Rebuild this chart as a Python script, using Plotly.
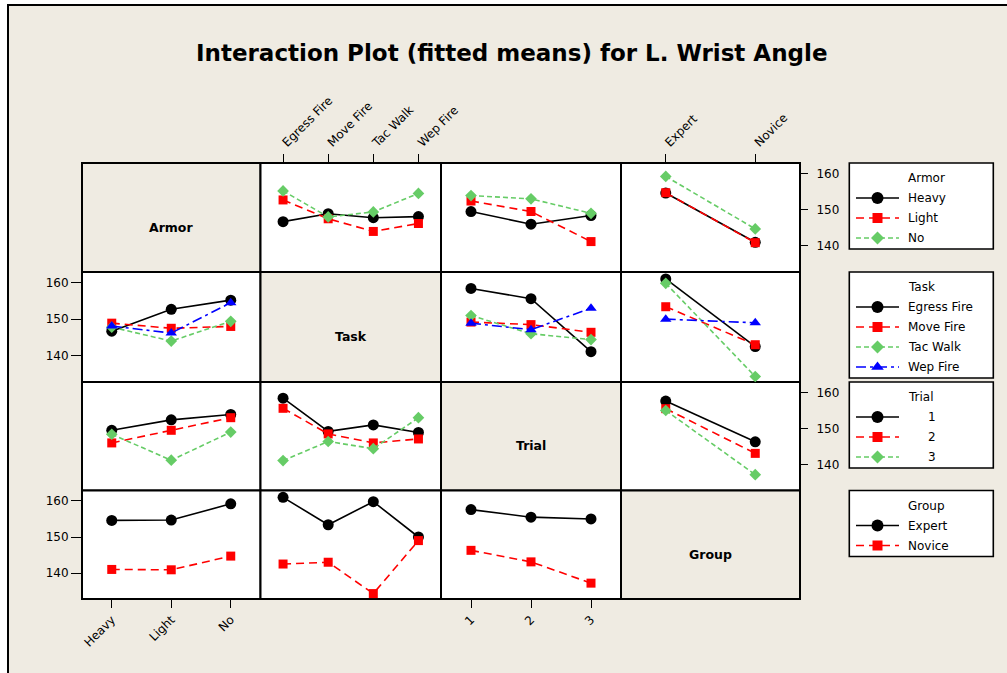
import plotly.graph_objects as go

W, H = 1007, 673

# Factors and their levels
factor_names = ["Armor", "Task", "Trial", "Group"]
armor_levels = ["Heavy", "Light", "No"]
task_levels = ["Egress Fire", "Move Fire", "Tac Walk", "Wep Fire"]
trial_levels = ["1", "2", "3"]
group_levels = ["Expert", "Novice"]
levels = [armor_levels, task_levels, trial_levels, group_levels]

# Fitted means of L. Wrist Angle: rows = levels of first factor, columns = levels of second
armor_task = [
    [146.7, 148.9, 147.8, 148.1],
    [152.7, 147.5, 144.0, 146.2],
    [155.2, 148.0, 149.4, 154.5],
]
armor_trial = [
    [149.5, 146.0, 148.4],
    [152.4, 149.5, 141.2],
    [153.9, 153.0, 149.0],
]
armor_group = [
    [154.6, 141.0],
    [154.7, 140.9],
    [159.2, 144.7],
]
task_trial = [
    [158.4, 155.6, 141.1],
    [149.2, 148.5, 146.4],
    [151.0, 146.0, 144.4],
    [148.9, 147.1, 153.0],
]
task_group = [
    [161.0, 142.5],
    [153.4, 143.0],
    [159.8, 134.3],
    [150.0, 149.0],
]
trial_group = [
    [157.6, 146.3],
    [155.5, 143.1],
    [155.0, 137.2],
]
pair_means = {
    (0, 1): armor_task, (0, 2): armor_trial, (0, 3): armor_group,
    (1, 2): task_trial, (1, 3): task_group, (2, 3): trial_group,
}

y_ticks = [140, 150, 160]
y_range = [132.8, 162.9]


def means(i, j):
    """Rows = levels of factor i (one line each), columns = levels of factor j (x)."""
    if i < j:
        return pair_means[(i, j)]
    return [list(c) for c in zip(*pair_means[(j, i)])]


# Styles per level index
line_colors = ["#000000", "#FF0000", "#66CC66", "#0000FF"]
line_dashes = ["solid", "8px,5px", "5px,3px", "10px,4px,3px,4px"]
marker_symbols = ["circle", "square", "diamond", "triangle-up"]
marker_sizes = [11, 9, 9, 10]

FONT = "DejaVu Sans"
BEIGE = "#EFEBE2"

col_edges = [82, 260.5, 441, 621, 800]
row_edges = [163, 272, 382, 490.5, 599]


def xp(px):
    return px / W


def yp(py):
    return 1 - py / H


fig = go.Figure()
layout_axes = {}
k = 0
nf = len(factor_names)
for i in range(nf):
    for j in range(nf):
        if i == j:
            continue
        k += 1
        xs = "x" if k == 1 else f"x{k}"
        ys = "y" if k == 1 else f"y{k}"
        xk = "xaxis" if k == 1 else f"xaxis{k}"
        yk = "yaxis" if k == 1 else f"yaxis{k}"
        nx = len(levels[j])
        table = means(i, j)
        for li, row in enumerate(table):
            fig.add_trace(go.Scatter(
                x=list(range(1, nx + 1)), y=row, xaxis=xs, yaxis=ys,
                mode="lines+markers", showlegend=False, cliponaxis=False,
                line=dict(color=line_colors[li], width=1.6, dash=line_dashes[li]),
                marker=dict(symbol=marker_symbols[li], size=marker_sizes[li],
                            color=line_colors[li]),
                hoverinfo="skip",
            ))
        xa = dict(domain=[xp(col_edges[j]), xp(col_edges[j + 1])], anchor=ys,
                  range=[0.5, nx + 0.5], showgrid=False, zeroline=False,
                  showline=False, fixedrange=True, automargin=False,
                  tickvals=list(range(1, nx + 1)), ticktext=levels[j],
                  tickfont=dict(family=FONT, size=12, color="black"),
                  tickcolor="black", tickwidth=1)
        if i == 0 and j % 2 == 1:
            xa.update(side="top", ticks="outside", ticklen=8, showticklabels=True,
                      tickangle=-45)
        elif i == nf - 1 and j % 2 == 0:
            xa.update(side="bottom", ticks="outside", ticklen=8, showticklabels=True,
                      tickangle=-45)
        else:
            xa.update(ticks="", showticklabels=False)
        ya = dict(domain=[yp(row_edges[i + 1]), yp(row_edges[i])], anchor=xs,
                  range=y_range, showgrid=False, zeroline=False, showline=False,
                  fixedrange=True, automargin=False, tickvals=y_ticks,
                  tickfont=dict(family=FONT, size=12, color="black"),
                  tickcolor="black", tickwidth=1)
        if j == 0 and i % 2 == 1:
            ya.update(side="left", ticks="outside", ticklen=10, showticklabels=True)
        elif j == nf - 1 and i % 2 == 0:
            ya.update(side="right", ticks="outside", ticklen=7, showticklabels=True,
                      ticklabelstandoff=6)
        else:
            ya.update(ticks="", showticklabels=False)
        layout_axes[xk] = xa
        layout_axes[yk] = ya

# Overlay axis in pixel units for the legend panels
k += 1
LX, LY = f"x{k}", f"y{k}"
layout_axes[f"xaxis{k}"] = dict(domain=[0, 1], range=[0, W], visible=False,
                                fixedrange=True, automargin=False, anchor=LY)
layout_axes[f"yaxis{k}"] = dict(domain=[0, 1], range=[H, 0], visible=False,
                                fixedrange=True, automargin=False, anchor=LX)

shapes = []
annotations = []

# Page background with dark top/left edge
shapes.append(dict(type="rect", xref="paper", yref="paper", x0=xp(8), x1=xp(W + 5),
                   y0=yp(5), y1=yp(H + 5), fillcolor=BEIGE,
                   line=dict(color="black", width=2), layer="below"))

# Matrix cells
for i in range(nf):
    for j in range(nf):
        shapes.append(dict(type="rect", xref="paper", yref="paper",
                           x0=xp(col_edges[j]), x1=xp(col_edges[j + 1]),
                           y0=yp(row_edges[i + 1]), y1=yp(row_edges[i]),
                           fillcolor=BEIGE if i == j else "white",
                           line=dict(color="black", width=2), layer="below"))
    annotations.append(dict(
        text=f"<b>{factor_names[i]}</b>", xref="paper", yref="paper",
        x=xp((col_edges[i] + col_edges[i + 1]) / 2),
        y=yp((row_edges[i] + row_edges[i + 1]) / 2 + 9.5),
        showarrow=False, xanchor="center", yanchor="middle",
        font=dict(family=FONT, size=12.5, color="black")))

# Legend panels
box_x0, box_x1 = 849.3, 993.3
for f in range(nf):
    top = row_edges[f]
    n = len(levels[f])
    bottom = top + 15 + 20 * n + 11
    shapes.append(dict(type="rect", xref=LX, yref=LY, x0=box_x0, x1=box_x1,
                       y0=top, y1=bottom, fillcolor="white",
                       line=dict(color="black", width=1.6), layer="below"))
    annotations.append(dict(text=factor_names[f], xref=LX, yref=LY, x=906,
                            y=top + 15, xanchor="left", yanchor="middle",
                            showarrow=False,
                            font=dict(family=FONT, size=12, color="black")))
    for li, name in enumerate(levels[f]):
        yy = top + 15 + 20 * (li + 1)
        fig.add_trace(go.Scatter(
            x=[856, 899], y=[yy, yy], xaxis=LX, yaxis=LY, mode="lines",
            showlegend=False, hoverinfo="skip", cliponaxis=False,
            line=dict(color=line_colors[li], width=1.6, dash=line_dashes[li])))
        fig.add_trace(go.Scatter(
            x=[877.5], y=[yy], xaxis=LX, yaxis=LY, mode="markers",
            showlegend=False, hoverinfo="skip", cliponaxis=False,
            marker=dict(symbol=marker_symbols[li], size=marker_sizes[li] + 1,
                        color=line_colors[li])))
        numeric = name.isdigit()
        annotations.append(dict(text=name, xref=LX, yref=LY,
                                x=932 if numeric else 906, y=yy,
                                xanchor="center" if numeric else "left",
                                yanchor="middle", showarrow=False,
                                font=dict(family=FONT, size=12, color="black")))

# Title
annotations.append(dict(text="<b>Interaction Plot (fitted means) for L. Wrist Angle</b>",
                        xref="paper", yref="paper", x=xp(511), y=yp(53),
                        xanchor="center", yanchor="middle", showarrow=False,
                        font=dict(family=FONT, size=23, color="black")))

fig.update_layout(
    width=W, height=H, autosize=False,
    margin=dict(l=0, r=0, t=0, b=0, pad=0, autoexpand=False),
    paper_bgcolor="white", plot_bgcolor="rgba(0,0,0,0)",
    showlegend=False, shapes=shapes, annotations=annotations,
    font=dict(family=FONT, size=12, color="black"),
    **layout_axes,
)

fig.write_html("out.html", config={"displayModeBar": False})
